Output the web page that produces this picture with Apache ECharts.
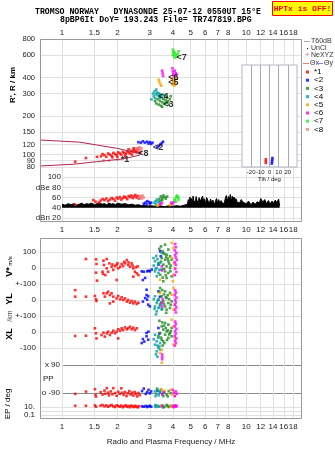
<!DOCTYPE html>
<html><head><meta charset="utf-8">
<script src="https://cdn.jsdelivr.net/npm/echarts@6/dist/echarts.min.js"></script>
<style>html,body{margin:0;padding:0;background:#fff}#c{width:335px;height:451px}</style>
</head><body><div id="c"></div>
<script>
// ---------- tick labels ----------
const freqTicks = [1,1.5,2,3,4,5,6,7,8,10,12,14,16,18];
const rTicks = [80,90,100,120,150,200,300,400,600,800];
const rLabels = [80,100,120,150,200,300,400,600,800];
const rLabelsExtra = [90];
const dbTicks = [20,40,60,80,100];
const tiltTicks = [-20,-10,0,10,20];
const vTicks = [-100,0,100];
const ylTicks = [-100,0];
const xlTicks = [-100,0];
const ppTicks = [-90,90];
const epTicks = [0.1,1,10];
const echoNames = ['*1','<2','<3','<4','<5','<6','<7','<8'];
const echoColors = ['#ff0000','#0000ff','#1f8a1f','#00a0a8','#ffa500','#ff00ff','#22ee22','#f08080'];

// ---------- model curves (R' panel) ----------
const modelUpper = [[0.76,130],[1.25,125],[1.98,112],[2.65,102]];
const modelLower = [[0.76,81.5],[1.15,84],[1.54,88],[2.14,92.5],[2.65,99]];

// ---------- virtual height R' (km) ----------
const redR = [[1.18,88],[1.35,94],[1.55,96],[1.63,97],[1.66,101],[1.7,99],[1.74,96],[1.78,102],[1.82,100],[1.86,98],[1.9,103],[1.94,101],[1.98,99],[2.02,104],[2.06,102],[2.1,100],[2.14,105],[2.18,103],[2.22,101],[2.26,106],[2.3,104],[2.34,102],[2.38,107],[2.42,105],[2.46,109],[2.5,106],[2.54,104],[2.58,108],[2.62,105],[2.66,103],[2.3,110],[2.45,112],[2.55,111],[2.2,97],[2.0,96],[1.88,95],[2.4,100],[2.6,112]];
const blueR = [[2.6,125],[2.68,124],[2.75,127],[2.82,124],[2.9,126],[2.95,122],[3.0,125],[3.05,121],[3.1,124],[3.3,114],[3.36,117],[3.42,120],[3.48,123],[3.54,126]];
const greenR = [[3.2,262],[3.25,251],[3.3,271],[3.35,246],[3.4,262],[3.45,241],[3.5,256],[3.55,271],[3.6,251],[3.65,266],[3.7,282],[3.75,261],[3.8,246],[3.85,271],[3.9,286],[3.5,236],[3.4,276],[3.6,292],[3.7,255]];
const tealR = [[3.12,300],[3.18,312],[3.22,296],[3.25,322],[3.28,306],[3.3,290],[3.35,301],[3.38,285],[3.42,296],[3.45,281],[3.5,291],[3.2,276],[3.06,270],[3.15,285]];
const orangeR = [[3.35,385],[3.38,370],[3.42,356],[3.46,345],[3.95,392],[4.0,376],[4.04,361],[4.1,381],[4.15,396],[3.98,352],[4.08,346],[4.12,366]];
const magentaR = [[3.5,452],[3.52,431],[3.54,412],[3.98,472],[4.0,446],[4.02,426],[4.05,411],[4.1,452],[4.15,432],[4.18,421]];
const limeR = [[4.0,662],[4.05,641],[4.1,622],[4.15,601],[4.2,582],[4.05,592],[4.1,571],[4.25,612],[4.3,641],[4.0,602],[4.02,630]];
const pinkR = [[1.68,90],[1.8,90],[2.0,91],[2.55,112],[2.6,110],[2.64,114],[2.68,108],[2.7,112],[2.62,106]];
const echoLabelNames = ['*1','<2','<3','<4','<5','<6','<7','<8'];
const echoLabelFreq = [2.2,3.33,3.78,3.55,4.03,4.03,4.47,2.77];
const echoLabelR = [92,113,244,283,365,402,575,102];

// ---------- tilt inset ----------
const tiltRed = [[-4,86],[-4,89],[-4,92]];
const tiltBlue = [[2.5,85],[2.8,88],[3,91],[3.2,94]];

// ---------- amplitude dB ----------
const noiseFreq = [1.0,1.04,1.08,1.12,1.16,1.2,1.24,1.28,1.32,1.36,1.4,1.45,1.5,1.55,1.6,1.65,1.7,1.75,1.8,1.85,1.9,1.95,2.0,2.1,2.2,2.3,2.4,2.5,2.6,2.7,2.8,2.9,3.0,3.2,3.4,3.6,3.8,4.0,4.2,4.4,4.6,4.8,4.85,4.9,4.95,5.0,5.05,5.1,5.15,5.2,5.3,5.35,5.4,5.5,5.55,5.6,5.7,5.8,5.85,5.9,6.0,6.1,6.2,6.3,6.4,6.5,6.6,6.7,6.8,6.9,7.0,7.1,7.2,7.3,7.4,7.5,7.6,7.7,7.8,7.9,8.0,8.1,8.2,8.3,8.4,8.5,8.6,8.7,8.8,8.9,9.0,9.2,9.4,9.6,9.8,10.0,10.3,10.6,10.9,11.2,11.5,11.8,12.0,12.3,12.6,12.9,13.2,13.5,13.8,14.1,14.4,14.7,15.0,15.2];
const noiseDb = [47,45,48,46,48,45,47,49,46,48,47,49,46,48,50,47,48,46,49,47,48,46,49,47,48,46,47,45,46,44,45,43,44,43,44,42,44,43,44,43,45,47,56,49,61,52,58,47,63,54,50,62,55,48,60,52,57,63,50,58,48,60,54,47,57,50,55,46,52,58,49,56,47,54,50,53,48,58,64,52,62,55,66,51,63,57,61,50,58,52,55,49,56,51,54,48,53,46,51,47,52,49,58,51,56,48,54,47,53,49,55,50,57,44];
const redDb = [[1.18,46],[1.48,55],[1.52,52],[1.58,50],[1.62,54],[1.66,57],[1.7,55],[1.74,58],[1.78,53],[1.82,56],[1.86,59],[1.9,57],[1.94,54],[1.98,60],[2.02,58],[2.06,61],[2.1,56],[2.14,59],[2.18,62],[2.22,60],[2.26,57],[2.3,63],[2.34,61],[2.38,64],[2.42,59],[2.46,62],[2.5,65],[2.54,60],[2.58,63],[2.62,58],[2.66,61]];
const blueDb = [[2.78,48],[2.84,50],[2.9,53],[2.96,51],[3.0,48],[3.05,50],[2.88,46]];
const greenDb = [[3.38,57],[3.44,62],[3.5,59],[3.55,64],[3.6,61],[3.66,58],[3.72,62],[3.5,55],[3.42,53]];
const tealDb = [[3.18,50],[3.22,53],[3.28,56],[3.32,52],[3.38,49],[3.24,47]];
const orangeDb = [[3.3,44],[3.36,46],[3.85,45],[3.92,47]];
const magentaDb = [[3.42,47],[3.48,49],[3.92,50],[3.98,48],[4.04,51]];
const limeDb = [[4.08,55],[4.12,58],[4.18,62],[4.24,60],[4.3,56],[4.16,52],[4.22,64],[4.28,61]];
const pinkDb = [[2.62,60],[2.66,63],[2.7,61],[2.74,64],[2.72,58],[2.78,60]];

// ---------- V* (m/s) ----------
const redV = [[1.35,56],[1.53,54],[1.54,25],[1.53,-29],[1.55,-79],[1.68,46],[1.75,56],[1.69,19],[1.66,-23],[1.67,-37],[1.75,-2],[1.78,-23],[1.81,29],[1.86,8],[1.9,-12],[1.94,12],[1.98,19],[2.02,-2],[2.07,8],[2.11,25],[2.15,12],[2.2,29],[2.25,50],[2.29,19],[2.34,8],[2.39,29],[2.44,-2],[2.49,-23],[2.55,-33],[2.6,-44],[1.98,-75],[2.44,-54],[1.72,-44],[2.0,30],[2.18,38],[2.3,35],[2.42,15],[2.52,5],[2.58,10],[1.88,22]];
const blueV = [[2.71,-21],[2.75,-75],[2.83,-62],[2.9,-21],[2.95,-17],[3.0,-21],[3.07,-10],[3.34,21],[3.41,104],[3.44,73],[2.78,-23]];
const greenV = [[3.63,146],[3.78,115],[3.55,94],[3.7,83],[3.86,73],[3.48,62],[3.63,52],[3.78,42],[3.94,52],[3.34,31],[3.55,21],[3.7,10],[3.86,0],[3.48,-10],[3.63,-21],[3.78,-31],[3.41,-42],[3.94,-52],[3.7,-62],[3.55,-83],[3.38,120],[3.45,135],[3.52,105],[3.6,88],[3.68,70],[3.75,58],[3.82,28],[3.9,15],[3.45,40],[3.58,-5],[3.66,-45],[3.52,-60],[3.88,-20]];
const tealV = [[3.2,42],[3.34,21],[3.27,0],[3.41,31],[3.2,-21],[3.34,-31],[3.27,-52],[3.48,94],[3.14,62],[3.15,15],[3.3,55],[3.22,-5],[3.38,-12],[3.25,75]];
const orangeV = [[3.94,156],[4.03,125],[3.94,62],[4.12,0],[4.03,-42],[4.0,-83],[3.41,-73],[4.06,30]];
const magentaV = [[4.12,150],[4.15,130],[4.1,110],[4.18,95],[4.12,80],[4.15,65],[4.2,50],[4.1,35],[4.15,20],[4.12,-5],[4.18,-25],[4.1,-45],[3.48,10],[3.5,-15]];

// ---------- YL (km) ----------
const redYL = [[1.18,62],[1.18,21],[1.35,21],[1.51,25],[1.53,4],[1.54,-6],[1.68,42],[1.71,21],[1.75,42],[1.78,52],[1.82,31],[1.86,42],[1.9,21],[1.9,-10],[1.98,10],[2.02,25],[2.07,4],[2.11,17],[2.15,0],[2.2,10],[2.25,-10],[2.29,0],[2.34,-17],[2.39,-6],[2.44,-21],[2.49,-10],[2.55,-25],[2.6,-17],[1.82,-21]];
const blueYL = [[2.75,-10],[2.83,12],[2.88,64],[2.88,31],[2.94,23],[2.9,2],[2.94,-29],[3.34,54],[3.4,20],[3.0,-40]];
const greenYL = [[3.41,75],[3.63,54],[3.86,44],[3.48,23],[3.7,12],[3.34,2],[3.55,-8],[3.78,-19],[3.94,-8],[3.41,-29],[3.63,-40],[3.86,-50],[3.7,-60],[3.38,50],[3.5,62],[3.58,35],[3.66,18],[3.75,30],[3.82,5],[3.9,-30],[3.45,-15],[3.58,-25],[3.68,-80],[3.5,-55]];
const tealYL = [[3.2,23],[3.34,2],[3.27,-19],[3.41,-29],[3.2,-40],[3.34,-50],[3.27,-71],[3.48,-60],[3.15,5],[3.3,-5],[3.24,-90],[3.38,-45],[3.18,-55]];
const orangeYL = [[4.03,75],[3.94,33],[4.12,-29],[4.03,-60],[3.41,44]];
const magentaYL = [[4.12,60],[4.15,45],[4.1,30],[4.18,15],[4.12,0],[4.15,-15],[4.1,-30],[4.18,-45],[4.12,-60],[4.15,-78],[3.48,-20],[3.5,-40],[3.52,5]];

// ---------- XL (km) ----------
const redXL = [[1.18,-25],[1.35,-23],[1.51,23],[1.53,-8],[1.54,-40],[1.64,-19],[1.68,-4],[1.71,-29],[1.75,-8],[1.78,2],[1.82,-19],[1.86,-4],[1.9,8],[1.94,-8],[1.98,2],[2.02,17],[2.07,8],[2.11,23],[2.15,12],[2.2,29],[2.25,17],[2.29,23],[2.34,33],[2.39,17],[2.44,27],[2.49,12],[2.55,23],[2.02,-40]];
const blueXL = [[2.71,-69],[2.75,-44],[2.8,-60],[2.88,-6],[2.88,-27],[2.94,-48],[2.95,2],[3.34,25],[3.38,-10]];
const greenXL = [[3.63,56],[3.78,46],[3.48,35],[3.94,25],[3.55,15],[3.7,4],[3.41,-6],[3.86,-6],[3.63,-17],[3.34,-27],[3.78,-37],[3.48,-48],[3.94,-27],[3.55,-58],[3.38,70],[3.5,60],[3.58,40],[3.66,25],[3.75,10],[3.82,-15],[3.9,5],[3.45,-35],[3.6,-70],[3.72,-50],[3.52,-85]];
const tealXL = [[3.2,-17],[3.34,-37],[3.27,-58],[3.41,-69],[3.2,-79],[3.34,-100],[3.27,-121],[3.41,-110],[3.15,-45],[3.3,-85],[3.24,-140],[3.38,-90],[3.3,-155]];
const orangeXL = [[3.94,77],[4.03,35],[4.12,-37],[4.03,-79],[3.41,-131],[3.48,-192],[3.48,-112]];
const magentaXL = [[4.12,65],[4.15,50],[4.1,35],[4.18,20],[4.12,5],[4.15,-10],[4.1,-25],[4.18,-40],[4.12,-55],[4.15,-70],[4.1,-85],[3.5,-140],[3.5,-155],[3.5,-170]];

// ---------- PP (deg) ----------
const redPP = [[1.18,-96],[1.35,-81],[1.51,-66],[1.52,-100],[1.53,-113],[1.62,-85],[1.66,-100],[1.7,-75],[1.72,-95],[1.75,-59],[1.78,-88],[1.8,-105],[1.84,-80],[1.88,-98],[1.9,-59],[1.94,-90],[1.98,-108],[2.02,-82],[2.06,-96],[2.1,-60],[2.12,-88],[2.16,-102],[2.2,-84],[2.24,-110],[2.28,-92],[2.32,-78],[2.36,-100],[2.4,-88],[2.44,-106],[2.48,-84],[2.52,-96],[2.56,-112],[2.6,-90],[2.64,-104]];
const bluePP = [[2.72,-78],[2.78,-62],[2.85,-96],[2.9,-85],[2.95,-70],[3.0,-92],[3.05,-80],[3.3,-75]];
const greenPP = [[3.4,-80],[3.5,-95],[3.6,-85],[3.7,-100],[3.8,-78],[3.9,-92],[3.55,-110],[3.75,-112],[3.45,-70]];
const tealPP = [[3.2,-80],[3.25,-95],[3.3,-70],[3.35,-105],[3.4,-88],[3.22,-110],[3.28,-62]];
const orangePP = [[3.45,-65],[3.9,-70],[3.95,-100],[4.05,-85],[4.1,-110],[3.6,-75]];
const magentaPP = [[4.0,-70],[4.05,-90],[4.1,-110],[4.15,-80],[4.2,-95],[3.5,-100],[3.55,-85]];

// ---------- EP (deg) ----------
const redEP = [[1.18,20],[1.35,20],[1.51,25],[1.53,12],[1.62,22],[1.66,30],[1.7,15],[1.74,25],[1.78,12],[1.82,20],[1.86,30],[1.9,15],[1.94,10],[1.98,25],[2.02,18],[2.06,12],[2.1,22],[2.14,9],[2.18,16],[2.22,25],[2.26,11],[2.3,18],[2.34,9],[2.38,22],[2.42,14],[2.46,10],[2.5,20],[2.54,12],[2.58,8],[2.62,16]];
const blueEP = [[2.72,15],[2.78,12],[2.85,18],[2.9,10],[2.95,14],[3.0,20],[3.05,12]];
const greenEP = [[3.4,15],[3.5,25],[3.6,12],[3.7,30],[3.8,10],[3.9,20],[3.55,8],[3.75,18]];
const tealEP = [[3.2,15],[3.25,10],[3.3,22],[3.35,12],[3.22,30]];
const orangeEP = [[3.45,20],[3.9,12],[3.95,25],[4.05,10],[4.1,18]];
const magentaEP = [[4.0,15],[4.05,10],[4.1,25],[4.15,12],[4.2,20],[3.5,15]];

// ================= build chart =================
const FONT = '"Liberation Sans", Arial, sans-serif';
const MONO = '"Liberation Mono", "DejaVu Sans Mono", monospace';
const GRIDC = '#e0e0e0';
const TXT = '#222';

function fAxis(gi, min, showLabels, extra) {
  return Object.assign({
    type:'log', logBase:10, gridIndex:gi, min:min, max:20.1,
    axisLine:{show:false},
    axisTick:{show:false, customValues:freqTicks},
    axisLabel:{show:showLabels, customValues:freqTicks, fontSize:8, color:TXT, fontFamily:FONT, margin:4, hideOverlap:false,
      formatter:v=>String(Math.round(v*10)/10)},
    splitLine:{show:true, lineStyle:{color:GRIDC, width:1}}
  }, extra||{});
}
function yLab(fmt, margin, extra) {
  return Object.assign({fontSize:8, color:TXT, fontFamily:FONT, margin:margin, formatter:fmt, hideOverlap:false, showMinLabel:true, showMaxLabel:true}, extra||{});
}

const xAxis = [
  fAxis(0, 0.76, true, {position:'top', axisLabel:{show:true, customValues:freqTicks, fontSize:8, color:TXT, fontFamily:FONT, margin:2, formatter:v=>String(Math.round(v*10)/10)}}),
  fAxis(1, 0.9999, true),
  {type:'value', gridIndex:2, min:-30, max:30, z:4,
    axisLine:{show:false}, axisTick:{show:false, customValues:tiltTicks},
    axisLabel:{customValues:tiltTicks, fontSize:6, color:TXT, fontFamily:FONT, margin:2},
    splitLine:{show:true, lineStyle:{color:'#a8a8b8'}},
    name:'Tilt / deg', nameLocation:'middle', nameGap:9, nameTextStyle:{fontSize:6, color:TXT, fontFamily:FONT}},
  fAxis(3, 0.76, false),
  fAxis(4, 0.76, false),
  fAxis(5, 0.76, false),
  fAxis(6, 0.9999, false),
  fAxis(7, 0.76, true, {name:'Radio and Plasma Frequency / MHz', nameLocation:'middle', nameGap:19,
    nameTextStyle:{fontSize:8, color:TXT, fontFamily:FONT}})
];

const yAxis = [
  {type:'log', gridIndex:0, min:79.99, max:800.01, axisLine:{show:false}, axisTick:{show:false, customValues:rTicks},
    axisLabel:yLab(v=>String(Math.round(v)), 5, {customValues:rLabels, fontSize:7.5}), splitLine:{lineStyle:{color:GRIDC}}},
  {type:'value', gridIndex:1, min:12, max:120, axisLine:{show:false}, axisTick:{show:false, customValues:dbTicks},
    axisLabel:yLab(v=>v===80?'dBe 80':(v===20?'dBn 20':String(v)), 1, {customValues:dbTicks}), splitLine:{lineStyle:{color:GRIDC}}},
  {type:'log', gridIndex:2, min:80, max:500, show:false},
  {type:'value', gridIndex:3, min:-100, max:187.5, axisLine:{show:false}, axisTick:{show:false, customValues:vTicks},
    axisLabel:yLab(v=>v===-100?'+-100':String(v), 4, {customValues:vTicks}), splitLine:{lineStyle:{color:GRIDC}}},
  {type:'value', gridIndex:4, min:-100, max:100, axisLine:{show:false}, axisTick:{show:false, customValues:ylTicks},
    axisLabel:yLab(v=>v===-100?'+-100':String(v), 4, {customValues:ylTicks}), splitLine:{lineStyle:{color:GRIDC}}},
  {type:'value', gridIndex:5, min:-100, max:100, axisLine:{show:false}, axisTick:{show:false, customValues:xlTicks},
    axisLabel:yLab(v=>String(v), 4, {customValues:xlTicks}), splitLine:{lineStyle:{color:GRIDC}}},
  {type:'value', gridIndex:6, min:-135, max:198, axisLine:{show:false}, axisTick:{show:false, customValues:ppTicks},
    axisLabel:yLab(v=>v===90?'x 90':'o -90', 2, {customValues:ppTicks}), splitLine:{lineStyle:{color:'#8a8a8a'}}},
  {type:'log', gridIndex:7, min:0.0125, max:500, axisLine:{show:false}, axisTick:{show:false, customValues:epTicks},
    axisLabel:yLab(v=>Math.abs(v-10)<1e-6?'10.':(Math.abs(v-0.1)<1e-6?'0.1':''), 5, {customValues:epTicks}), splitLine:{lineStyle:{color:GRIDC}}},
  // extra label-only axis for R' = 90 (too close to 80 to share an axis)
  {type:'log', gridIndex:0, min:79.99, max:800.01, position:'left', axisLine:{show:false},
    axisTick:{show:false, customValues:rLabelsExtra}, splitLine:{show:false},
    axisLabel:yLab(v=>String(Math.round(v)), 5, {customValues:rLabelsExtra, fontSize:7.5})}
];

const grid = [
  {left:40, top:39, width:262, height:128},
  {left:62, top:167, width:240, height:55},
  {left:242, top:65, width:55, height:102, show:true, backgroundColor:'#fff', borderColor:'#b4b4c4', borderWidth:1, z:3},
  {left:40, top:238, width:262, height:46},
  {left:40, top:284, width:262, height:32},
  {left:40, top:316, width:262, height:32},
  {left:62, top:348, width:240, height:52},
  {left:40, top:400, width:262, height:19}
];

function sc(name, color, data, gi, extra) {
  return Object.assign({type:'scatter', name:name, xAxisIndex:gi, yAxisIndex:gi, data:data,
    symbol:'rect', symbolSize:2.6, itemStyle:{color:color}, silent:true, clip:false, animation:false}, extra||{});
}

const series = [];
series.push({type:'line', xAxisIndex:0, yAxisIndex:0, data:modelUpper, symbol:'none', lineStyle:{color:'#b3264a', width:1}, silent:true});
series.push({type:'line', xAxisIndex:0, yAxisIndex:0, data:modelLower, symbol:'none', lineStyle:{color:'#b3264a', width:1}, silent:true});
series.push({type:'line', name:'T60dB', xAxisIndex:1, yAxisIndex:1, data:noiseFreq.map((f,i)=>[f,noiseDb[i]]),
  symbol:'none', lineStyle:{color:'#000', width:1}, areaStyle:{color:'#000', opacity:1, origin:40}, silent:true, z:1});

const perEcho = [
  [redR, redDb, redV, redYL, redXL, redPP, redEP],
  [blueR, blueDb, blueV, blueYL, blueXL, bluePP, blueEP],
  [greenR, greenDb, greenV, greenYL, greenXL, greenPP, greenEP],
  [tealR, tealDb, tealV, tealYL, tealXL, tealPP, tealEP],
  [orangeR, orangeDb, orangeV, orangeYL, orangeXL, orangePP, orangeEP],
  [magentaR, magentaDb, magentaV, magentaYL, magentaXL, magentaPP, magentaEP],
  [limeR, limeDb],
  [pinkR, pinkDb]
];
const gridOrder = [0,1,3,4,5,6,7];
perEcho.forEach((sets, k) => {
  sets.forEach((d, j) => series.push(sc(echoNames[k], echoColors[k], d, gridOrder[j])));
});
series.push(sc('*1', echoColors[0], tiltRed, 2, {z:5}));
series.push(sc('<2', echoColors[1], tiltBlue, 2, {z:5}));
series.push({type:'scatter', xAxisIndex:0, yAxisIndex:0, symbol:'circle', symbolSize:1, itemStyle:{color:'rgba(0,0,0,0)'},
  data: echoLabelNames.map((n,i)=>({name:n, value:[echoLabelFreq[i], echoLabelR[i]]})),
  label:{show:true, position:'inside', formatter:'{b}', fontSize:9, color:'#000', fontFamily:FONT, fontWeight:'bold'}, silent:true, z:6});

const T = (text, x, y, font, fill, align, extra) => Object.assign({type:'text', x:x, y:y, silent:true,
  style:{text:text, font:font, fill:fill||'#000', align:align||'left', verticalAlign:'middle'}}, extra||{});
const ROT = Math.PI/2;
const graphic = [
  {type:'rect', shape:{x:40.5, y:39.5, width:261, height:182}, style:{fill:'none', stroke:'#9a9a9a', lineWidth:1}, silent:true, z:10},
  {type:'rect', shape:{x:40.5, y:238.5, width:261, height:180}, style:{fill:'none', stroke:'#9a9a9a', lineWidth:1}, silent:true, z:10},
  T('TROMSO NORWAY   DYNASONDE 25-07-12 0550UT 15\u00B0E', 35, 12, 'bold 8.2px ' + MONO, '#000', 'left'),
  T('8pBP6It DoY= 193.243 File= TR747819.BPG', 60, 19.5, 'bold 8.2px ' + MONO, '#000', 'left'),
  {type:'rect', shape:{x:272.5, y:1.5, width:60, height:14}, style:{fill:'#ffff00', stroke:'#ff0000', lineWidth:1}, silent:true},
  T('HPTx is OFF!', 302.5, 9, 'bold 8px ' + MONO, '#ff0000', 'center'),
  T("R', R / km", 13, 85, 'bold 8px ' + FONT, '#000', 'center', {rotation:ROT}),
  {type:'line', shape:{x1:304, y1:41.5, x2:310, y2:41.5}, style:{stroke:'#aaa', lineWidth:1}, silent:true},
  T('T60dB', 311, 41.5, '7px ' + FONT, '#333'),
  {type:'rect', shape:{x:307, y:48, width:1, height:1}, style:{fill:'#000'}, silent:true},
  T('UnCl', 311, 48.5, '7px ' + FONT, '#333'),
  T('+', 307, 55, '8px ' + FONT, '#f06080', 'center'),
  T('NeXYZ', 311, 55, '7px ' + FONT, '#333'),
  {type:'line', shape:{x1:303, y1:63.5, x2:309, y2:63.5}, style:{stroke:'#f08080', lineWidth:1}, silent:true},
  T('\u0398x', 310, 63.5, '7px ' + FONT, '#333'),
  {type:'line', shape:{x1:317, y1:63.5, x2:323, y2:63.5}, style:{stroke:'#8080f0', lineWidth:1}, silent:true},
  T('\u0398y', 324, 63.5, '7px ' + FONT, '#333'),
  T('V*', 10, 272, 'bold 9px ' + FONT, '#000', 'center', {rotation:ROT}),
  T('m/s', 10, 261, '6px ' + FONT, '#000', 'center', {rotation:ROT}),
  T('YL', 10, 299, 'bold 9px ' + FONT, '#000', 'center', {rotation:ROT}),
  T('/km', 10, 316, '7px ' + FONT, '#444', 'center', {rotation:ROT}),
  T('XL', 10, 334, 'bold 9px ' + FONT, '#000', 'center', {rotation:ROT}),
  T('EP / deg', 8, 404, '8px ' + FONT, '#000', 'center', {rotation:ROT}),
  T('PP', 43, 379, '8px ' + FONT, '#222')
];

const chart = echarts.init(document.getElementById('c'), null, {renderer:'canvas'});
chart.setOption({
  animation:false,
  backgroundColor:'#fff',
  grid: grid, xAxis: xAxis, yAxis: yAxis, series: series,
  legend: {orient:'vertical', left:306, top:68, itemWidth:3, itemHeight:3, itemGap:0.2, padding:0,
    selectedMode:false, icon:'rect', data: echoNames,
    textStyle:{fontSize:8, lineHeight:8, color:'#000', fontFamily:FONT}},
  graphic: {elements: graphic}
});
</script></body></html>
